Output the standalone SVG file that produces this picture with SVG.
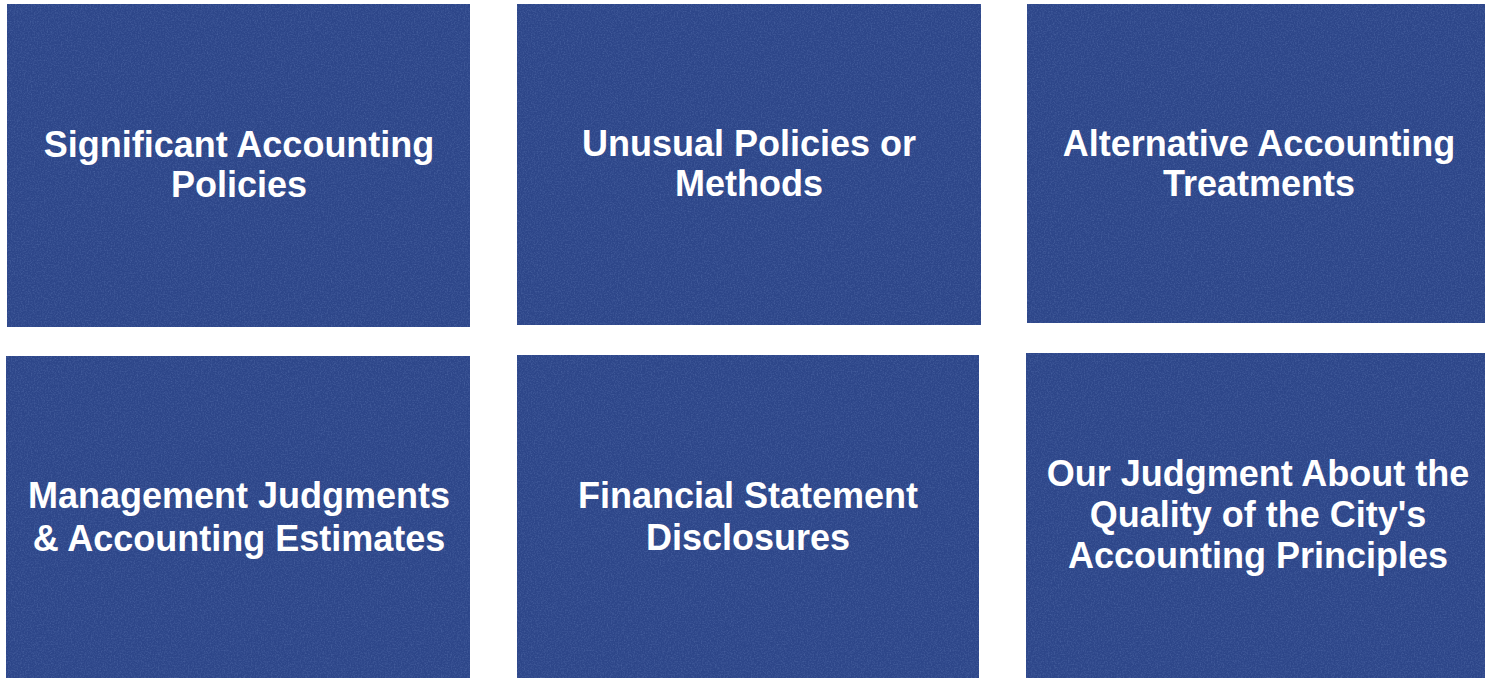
<svg xmlns="http://www.w3.org/2000/svg" width="1485" height="678" viewBox="0 0 1485 678">
  <style>
    .tile { fill: #2d4689; }
    .grain { fill: #ffffff; filter: url(#speckle); opacity: 0.6; }
    .label { fill: #ffffff; font-family: "Liberation Sans", Arial, sans-serif; font-weight: bold; font-size: 36px; text-anchor: middle; }
  </style>
  <defs>
    <!-- mottled speckle texture laid over the tiles -->
    <filter id="speckle" x="0" y="0" width="100%" height="100%">
      <feTurbulence type="fractalNoise" baseFrequency="0.7" numOctaves="3" seed="4" result="n"/>
      <feColorMatrix in="n" type="matrix" values="0 0 0 0 0.40  0 0 0 0 0.55  0 0 0 0 0.90  0 0 0 0.6 -0.24"/>
      <feComposite in2="SourceGraphic" operator="in"/>
    </filter>
  </defs>

  <rect width="1485" height="678" fill="#ffffff"/>

  <g id="significant-accounting-policies">
    <rect class="tile" x="7" y="4" width="463" height="323"/>
    <rect class="grain" x="7" y="4" width="463" height="323"/>
    <text class="label" x="239" y="157">Significant Accounting</text>
    <text class="label" x="239" y="197">Policies</text>
  </g>

  <g id="unusual-policies">
    <rect class="tile" x="517" y="4" width="464" height="321"/>
    <rect class="grain" x="517" y="4" width="464" height="321"/>
    <text class="label" x="749" y="156">Unusual Policies or</text>
    <text class="label" x="749" y="196">Methods</text>
  </g>

  <g id="alternative-treatments">
    <rect class="tile" x="1027" y="4" width="458" height="319"/>
    <rect class="grain" x="1027" y="4" width="458" height="319"/>
    <text class="label" x="1259" y="156">Alternative Accounting</text>
    <text class="label" x="1259" y="196">Treatments</text>
  </g>

  <g id="management-judgments">
    <rect class="tile" x="6" y="356" width="464" height="322"/>
    <rect class="grain" x="6" y="356" width="464" height="322"/>
    <text class="label" x="239" y="508">Management Judgments</text>
    <text class="label" x="239" y="551">&amp; Accounting Estimates</text>
  </g>

  <g id="financial-statement-disclosures">
    <rect class="tile" x="517" y="355" width="462" height="323"/>
    <rect class="grain" x="517" y="355" width="462" height="323"/>
    <text class="label" x="748" y="508">Financial Statement</text>
    <text class="label" x="748" y="550">Disclosures</text>
  </g>

  <g id="quality-judgment">
    <rect class="tile" x="1026" y="353" width="459" height="325"/>
    <rect class="grain" x="1026" y="353" width="459" height="325"/>
    <text class="label" x="1258" y="486">Our Judgment About the</text>
    <text class="label" x="1258" y="527">Quality of the City's</text>
    <text class="label" x="1258" y="568">Accounting Principles</text>
  </g>

  <g id="connectors"></g>
</svg>
